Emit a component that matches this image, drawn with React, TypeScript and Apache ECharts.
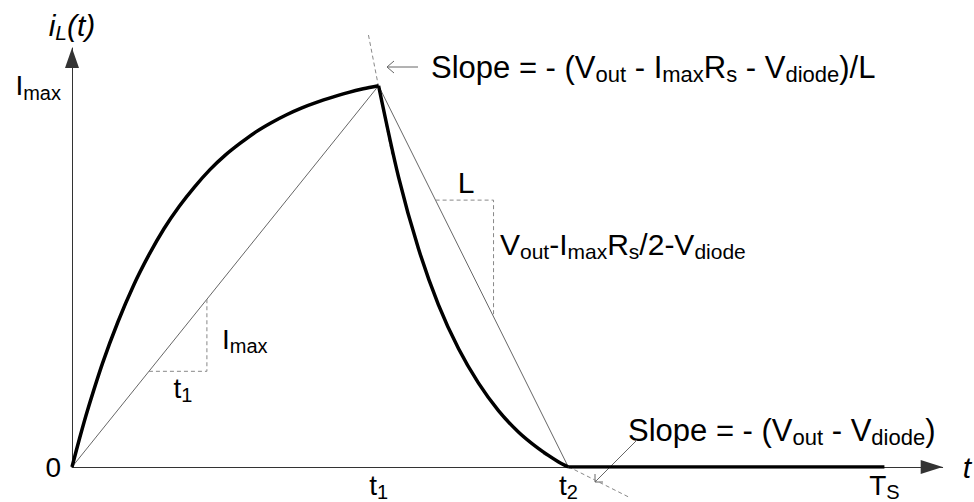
import React, { useEffect, useRef } from "react";
import * as echarts from "echarts";

// ---- data (time in units of t1, current in units of Imax) ----
const T1 = 1;
const T2 = 1.619;
const TS = 2.65;
const IMAX = 1;
const X_MAX = 2.84;
const Y_MAX = 1.099;

const riseT = [0, 0.025, 0.05, 0.1, 0.15, 0.2, 0.25, 0.3, 0.35, 0.4, 0.45, 0.5, 0.55, 0.6, 0.65, 0.7, 0.75, 0.8, 0.85, 0.9, 0.95, 1.0];
const riseI = [0, 0.076, 0.147, 0.273, 0.381, 0.475, 0.555, 0.625, 0.684, 0.735, 0.78, 0.818, 0.85, 0.879, 0.903, 0.924, 0.942, 0.957, 0.97, 0.982, 0.992, 1.0];

const fallT = [1.0, 1.065, 1.13, 1.195, 1.261, 1.326, 1.391, 1.456, 1.521, 1.586, 1.619];
const fallI = [1.0, 0.761, 0.573, 0.426, 0.31, 0.22, 0.148, 0.092, 0.049, 0.014, 0];

const offT = [T2, TS];
const offI = [0, 0];

const chordUpT = [0, T1];
const chordUpI = [0, IMAX];
const chordDownT = [T1, T2];
const chordDownI = [IMAX, 0];

const stepUpT = [0.251, 0.44, 0.44];
const stepUpI = [0.251, 0.251, 0.44];
const stepDownT = [1.186, 1.375, 1.375];
const stepDownI = [0.7, 0.7, 0.394];

const tangentPeakT = [0.967, 1.043];
const tangentPeakI = [1.133, 0.82];
const tangentEndT = [1.537, 1.814];
const tangentEndI = [0.034, -0.078];

const xTickValues = [T1, T2, TS];
const xTickLabels = ["{m|t}{s|1}", "{m|t}{s|2}", "{m|T}{s|S}"];
const yTickValues = [0, IMAX];
const yTickLabels = ["{m|0}", "{m|I}{s|max}"];

const FONT = "'Liberation Sans', Arial, sans-serif";

const zip = (a: number[], b: number[]) => a.map((v, i) => [v, b[i]]);

const richLabel = (main: number, sub: number, italic = false) => ({
  m: { fontSize: main, lineHeight: Math.round(main * 1.2), fontFamily: FONT, color: "#000", fontStyle: italic ? "italic" : "normal" },
  s: { fontSize: sub, lineHeight: sub, verticalAlign: "bottom", fontFamily: FONT, color: "#000", fontStyle: italic ? "italic" : "normal" },
});

export default function App() {
  const ref = useRef<HTMLDivElement>(null);
  useEffect(() => {
    if (!ref.current) return;
    const chart = echarts.init(ref.current, null, { renderer: "svg" });

    const thin = { color: "#666", width: 1 };
    const dashed = { color: "#888", width: 1, type: [4, 3] as any };
    const thick = { color: "#000", width: 3.5 };

    const lineSeries = (data: number[][], style: any, clip = true) => ({
      type: "line",
      data,
      showSymbol: false,
      symbol: "none",
      silent: true,
      clip,
      lineStyle: style,
      z: style.width > 2 ? 5 : 3,
    });

    chart.setOption({
      animation: false,
      grid: { left: 72, top: 48, width: 873, height: 422 },
      xAxis: {
        type: "value",
        min: 0,
        max: X_MAX,
        splitLine: { show: false },
        axisTick: { show: false },
        axisLine: {
          show: true,
          lineStyle: { color: "#333", width: 1 },
          symbol: ["none", "triangle"],
          symbolSize: [14, 22],
          symbolOffset: [0, -11],
        },
        axisLabel: {
          customValues: xTickValues,
          margin: 1,
          formatter: (v: number) => xTickLabels[xTickValues.indexOf(v)] ?? "",
          rich: richLabel(28, 20),
        },
        name: "{m|t}",
        nameLocation: "end",
        nameGap: 20,
        nameTextStyle: { rich: richLabel(30, 21, true) },
      },
      yAxis: {
        type: "value",
        min: 0,
        max: Y_MAX,
        splitLine: { show: false },
        axisTick: { show: false },
        axisLine: {
          show: true,
          lineStyle: { color: "#333", width: 1 },
          symbol: ["none", "triangle"],
          symbolSize: [14, 20],
          symbolOffset: [0, -10],
        },
        axisLabel: {
          customValues: yTickValues,
          margin: 11,
          formatter: (v: number) => yTickLabels[yTickValues.indexOf(v)] ?? "",
          rich: richLabel(28, 20),
        },
        name: "{m|i}{s|L}{m|(t)}",
        nameLocation: "end",
        nameGap: 5,
        nameTextStyle: { rich: richLabel(30, 21, true) },
      },
      series: [
        lineSeries(zip(chordUpT, chordUpI), thin),
        lineSeries(zip(chordDownT, chordDownI), thin),
        lineSeries(zip(stepUpT, stepUpI), dashed),
        lineSeries(zip(stepDownT, stepDownI), dashed),
        lineSeries(zip(tangentPeakT, tangentPeakI), dashed, false),
        lineSeries(zip(tangentEndT, tangentEndI), dashed, false),
        { ...lineSeries(zip(riseT, riseI), thick), smooth: 0.3 },
        { ...lineSeries(zip(fallT, fallI), thick), smooth: 0.3 },
        lineSeries(zip(offT, offI), thick),
      ],
      graphic: [
        {
          type: "text",
          x: 431,
          y: 67,
          style: {
            text: "{m|Slope = - (V}{s|out}{m| - I}{s|max}{m|R}{s|s}{m| - V}{s|diode}{m|)/L}",
            rich: richLabel(31, 22),
            align: "left",
            verticalAlign: "middle",
          },
        },
        { type: "line", shape: { x1: 418, y1: 67, x2: 387, y2: 67 }, style: { stroke: "#666", lineWidth: 1 } },
        { type: "polyline", shape: { points: [[394, 61], [387, 67], [394, 73]] }, style: { stroke: "#666", lineWidth: 1, fill: null } },
        {
          type: "text",
          x: 628,
          y: 430,
          style: {
            text: "{m|Slope = - (V}{s|out}{m| - V}{s|diode}{m|)}",
            rich: richLabel(31, 22),
            align: "left",
            verticalAlign: "middle",
          },
        },
        { type: "line", shape: { x1: 637, y1: 440, x2: 595, y2: 482 }, style: { stroke: "#666", lineWidth: 1 } },
        { type: "polyline", shape: { points: [[603, 482], [595, 482], [595, 474]] }, style: { stroke: "#666", lineWidth: 1, fill: null } },
        {
          type: "text",
          x: 466,
          y: 182,
          style: { text: "{m|L}", rich: richLabel(30, 21), align: "center", verticalAlign: "middle" },
        },
        {
          type: "text",
          x: 500,
          y: 244,
          style: {
            text: "{m|V}{s|out}{m|-I}{s|max}{m|R}{s|s}{m|/2-V}{s|diode}",
            rich: richLabel(30, 21),
            align: "left",
            verticalAlign: "middle",
          },
        },
        {
          type: "text",
          x: 222,
          y: 339,
          style: { text: "{m|I}{s|max}", rich: richLabel(28, 20), align: "left", verticalAlign: "middle" },
        },
        {
          type: "text",
          x: 183,
          y: 388,
          style: { text: "{m|t}{s|1}", rich: richLabel(28, 20), align: "center", verticalAlign: "middle" },
        },
      ],
    });
    return () => chart.dispose();
  }, []);

  return (
    <div
      ref={ref}
      style={{ position: "fixed", left: 0, top: 0, width: 974, height: 502, background: "#fff" }}
    />
  );
}
